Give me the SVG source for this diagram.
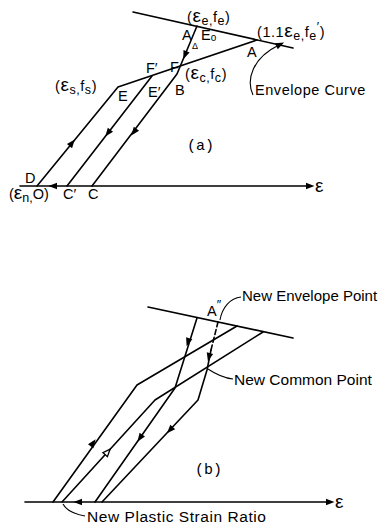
<svg xmlns="http://www.w3.org/2000/svg" xmlns:xlink="http://www.w3.org/1999/xlink" width="380" height="531" viewBox="0 0 380 531">
<style>
.ln{fill:none;stroke:#000;stroke-width:1.6;stroke-linejoin:round;stroke-linecap:round}
.ld{fill:none;stroke:#000;stroke-width:1.1}
.t{font-family:"Liberation Sans",Arial,sans-serif;font-size:14.5px;fill:#000}
.lg{letter-spacing:0.55px}
.tb{font-family:"Liberation Sans",Arial,sans-serif;font-size:15.5px;fill:#000}
.m{font-family:"Liberation Mono","Courier New",monospace;font-size:15px;fill:#000}
.ep{font-size:19px}
.sb{font-size:12.5px}
</style>
<defs>
<path id="ah" d="M4.5,0 L-4,-3.3 L-4,3.3 Z" fill="#000"/>
<path id="ahh" d="M4,0 L-3.5,-3 L-3.5,3 Z" fill="#fff" stroke="#000" stroke-width="1.3"/>
</defs>

<g id="part-a">
  <g id="a-lines">
    <path class="ln" d="M133,12 L293,48"/>
    <path class="ln" d="M20,186 L308,186"/>
    <path class="ln" d="M37,186 L118,87 L257,40"/>
    <path class="ln" d="M67,186 L152,76"/>
    <path class="ln" d="M92,186 L177,74 L197,26"/>
    <path class="ld" d="M253,95 C246,80 252,58 279,45"/>
  </g>
  <g id="a-arrows">
    <use xlink:href="#ah" transform="translate(310,186)"/>
    <use xlink:href="#ah" transform="translate(185,55) rotate(112.6)"/>
    <use xlink:href="#ah" transform="translate(72,143) rotate(-50.7)"/>
    <use xlink:href="#ah" transform="translate(108,133) rotate(127.7)"/>
    <use xlink:href="#ah" transform="translate(134,132) rotate(127.2)"/>
    <use xlink:href="#ah" transform="translate(53,186) rotate(180)"/>
    <use xlink:href="#ah" transform="translate(280,44.5) rotate(-25)"/>
  </g>
  <g id="a-labels">
    <text class="t lg" x="187" y="22">(<tspan class="ep">ε</tspan><tspan class="sb" dy="3">e,</tspan><tspan dy="-3">f</tspan><tspan class="sb" dy="3">e</tspan><tspan dy="-3">)</tspan></text>
    <text class="t lg" x="257" y="37">(1.1<tspan class="ep">ε</tspan><tspan class="sb" dy="3">e,</tspan><tspan dy="-3">f</tspan><tspan class="sb" dy="3">e</tspan><tspan class="sb" dy="-9">′</tspan><tspan dy="6">)</tspan></text>
    <text class="t" x="182" y="40">A</text>
    <text class="t" x="201" y="40">E<tspan class="sb" dy="1" style="font-size:10px">o</tspan></text>
    <text class="t" x="192" y="49" style="font-size:9px">Δ</text>
    <text class="t" x="247" y="57">A</text>
    <text class="t" x="146" y="73">F′</text>
    <text class="t" x="170" y="72">F</text>
    <text class="t lg" x="185" y="79">(<tspan class="ep">ε</tspan><tspan class="sb" dy="3">c,</tspan><tspan dy="-3">f</tspan><tspan class="sb" dy="3">c</tspan><tspan dy="-3">)</tspan></text>
    <text class="t lg" x="55" y="91">(<tspan class="ep">ε</tspan><tspan class="sb" dy="3">s,</tspan><tspan dy="-3">f</tspan><tspan class="sb" dy="3">s</tspan><tspan dy="-3">)</tspan></text>
    <text class="t" x="118" y="101">E</text>
    <text class="t" x="148" y="97">E′</text>
    <text class="t" x="175" y="95">B</text>
    <text class="t lg" x="255" y="95">Envelope Curve</text>
    <text class="m" x="187" y="150">(a)</text>
    <text class="t" x="25" y="183">D</text>
    <text class="t" x="9" y="199">(<tspan class="ep">ε</tspan><tspan class="sb" dy="3">n,</tspan><tspan dy="-3">O)</tspan></text>
    <text class="t" x="63" y="199">C′</text>
    <text class="t" x="88" y="199">C</text>
    <text class="t ep" x="315" y="192">ε</text>
  </g>
</g>

<g id="part-b">
  <g id="b-lines">
    <path class="ln" d="M148,307 L293,338"/>
    <path class="ln" d="M25,502 L328,502"/>
    <path class="ln" d="M53,502 L137,385 L237,326"/>
    <path class="ln" d="M62,502 L155,400 L263,332"/>
    <path class="ln" d="M95,502 L175,388 L197,318"/>
    <path class="ln" d="M102,502 L198,400 L207,370 L211,350"/>
    <path class="ln" d="M211,350 L218,322" stroke-dasharray="5,3"/>
    <path class="ld" d="M241,297 C230,298 222,308 220,320"/>
    <path class="ld" d="M233,379 C223,378 214,373 208,369"/>
    <path class="ld" d="M85,516 C74,514 66,510 63,504"/>
  </g>
  <g id="b-arrows">
    <use xlink:href="#ah" transform="translate(330,502)"/>
    <use xlink:href="#ah" transform="translate(78,502) rotate(180)"/>
    <use xlink:href="#ah" transform="translate(188,342) rotate(107.4)"/>
    <use xlink:href="#ah" transform="translate(209,357) rotate(104)"/>
    <use xlink:href="#ah" transform="translate(93,443) rotate(-54.3)"/>
    <use xlink:href="#ahh" transform="translate(107.5,452) rotate(-47.6)"/>
    <use xlink:href="#ah" transform="translate(140,438) rotate(125)"/>
    <use xlink:href="#ah" transform="translate(170,430) rotate(133.3)"/>
  </g>
  <g id="b-labels">
    <text class="t" x="207" y="316">A<tspan class="sb" dy="-7">″</tspan></text>
    <text class="tb" x="242" y="301" style="font-size:15px">New Envelope Point</text>
    <text class="tb" x="234" y="385">New Common Point</text>
    <text class="m" x="195" y="474">(b)</text>
    <text class="tb lg" x="87" y="522">New Plastic Strain Ratio</text>
    <text class="t ep" x="335" y="508">ε</text>
  </g>
</g>
</svg>
